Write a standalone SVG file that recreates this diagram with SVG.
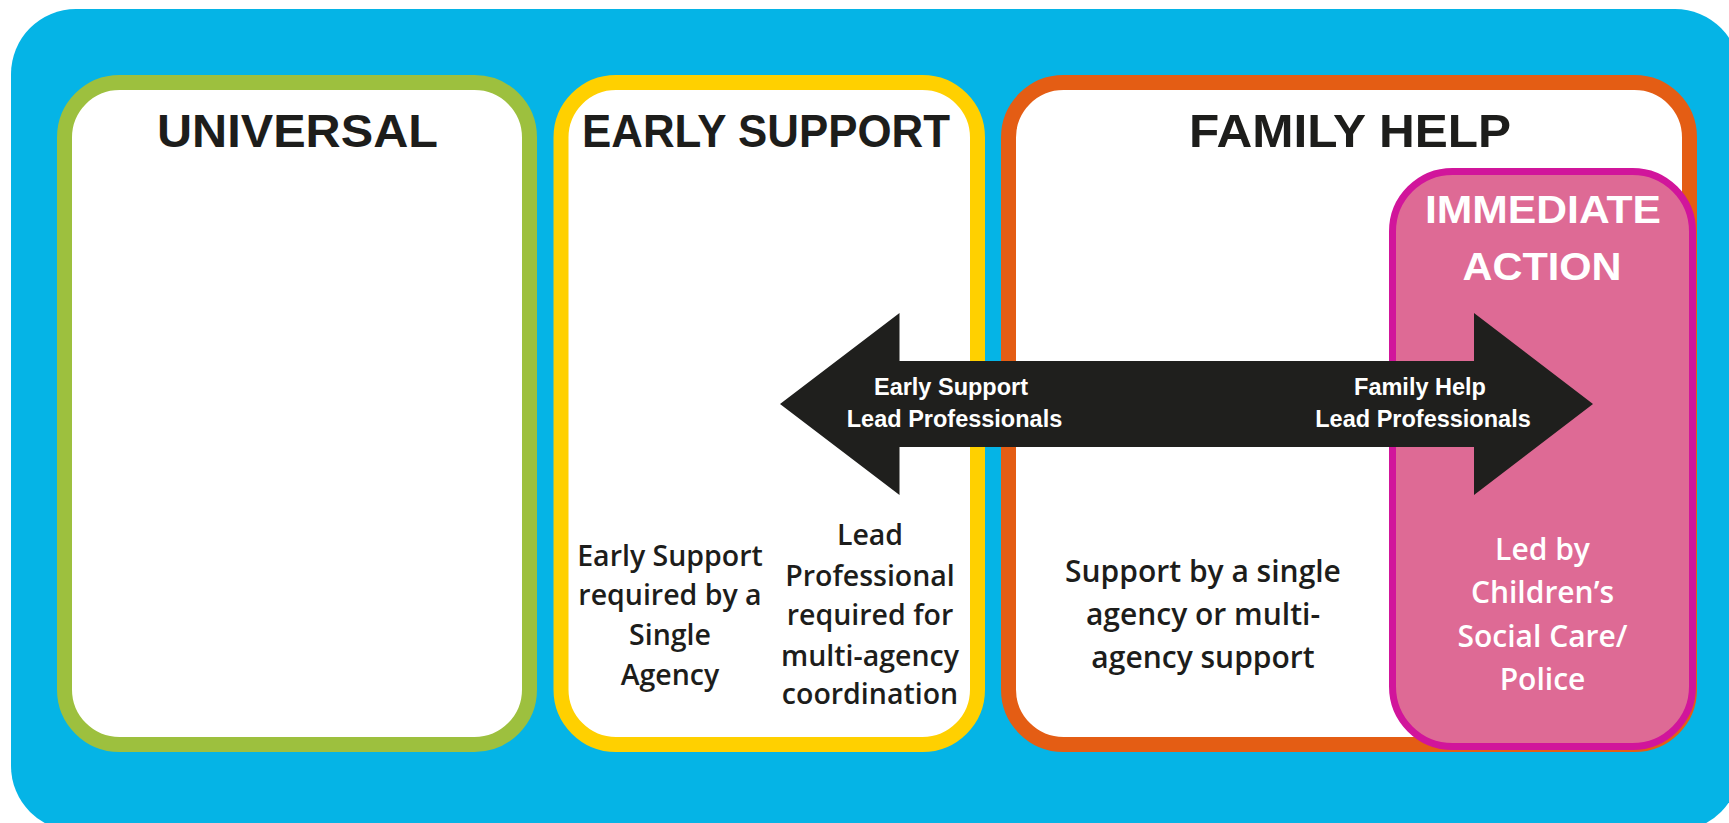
<svg xmlns="http://www.w3.org/2000/svg" width="1729" height="823" viewBox="0 0 1729 823">
<style>
.box{fill:#ffffff;stroke-width:15}
.title{font-family:"Liberation Sans",Arial,sans-serif;font-weight:700;font-size:47px;fill:#1d1d1b;text-anchor:middle}
.wtitle{font-family:"Liberation Sans",Arial,sans-serif;font-weight:700;font-size:38px;fill:#ffffff;text-anchor:middle}
.body{font-family:"Open Sans","Noto Sans",sans-serif;font-weight:600;font-size:28.5px;fill:#1d1d1b;text-anchor:middle}
.body2{font-family:"Open Sans","Noto Sans",sans-serif;font-weight:600;font-size:30px;fill:#1d1d1b;text-anchor:middle}
.pbody{font-family:"Open Sans","Noto Sans",sans-serif;font-weight:600;font-size:30px;fill:#ffffff;text-anchor:middle}
.alabel{font-family:"Liberation Sans",Arial,sans-serif;font-weight:700;font-size:23.5px;fill:#ffffff;text-anchor:middle}
</style>
<rect id="background" x="11" y="9" width="1729" height="822" rx="65" fill="#05b4e6"/>
<g id="universal">
<rect class="box" x="64.5" y="82.5" width="465" height="662" rx="55" stroke="#9dc03e"/>
<text class="title" x="297.5" y="147" textLength="281" lengthAdjust="spacingAndGlyphs">UNIVERSAL</text>
</g>
<g id="early-support">
<rect class="box" x="561" y="82.5" width="416.5" height="662" rx="55" stroke="#ffd000"/>
<text class="title" x="766" y="147" textLength="368" lengthAdjust="spacingAndGlyphs">EARLY SUPPORT</text>
<text class="body" x="670" y="566">Early Support</text>
<text class="body" x="670" y="605">required by a</text>
<text class="body" x="670" y="645">Single</text>
<text class="body" x="670" y="685">Agency</text>
<text class="body" x="870" y="545">Lead</text>
<text class="body" x="870" y="586">Professional</text>
<text class="body" x="870" y="625">required for</text>
<text class="body" x="870" y="666">multi-agency</text>
<text class="body" x="870" y="704">coordination</text>
</g>
<g id="family-help">
<rect class="box" x="1008.5" y="82.5" width="681" height="662" rx="55" stroke="#e45d14"/>
<text class="title" x="1350" y="147" textLength="322" lengthAdjust="spacingAndGlyphs">FAMILY HELP</text>
<text class="body2" x="1203" y="582">Support by a single</text>
<text class="body2" x="1203" y="625">agency or multi-</text>
<text class="body2" x="1203" y="668">agency support</text>
</g>
<g id="immediate-action">
<rect x="1392.5" y="171.5" width="300" height="575" rx="60" fill="#de6a95" stroke="#d1159b" stroke-width="7"/>
<text class="wtitle" x="1543" y="223" textLength="236" lengthAdjust="spacingAndGlyphs">IMMEDIATE</text>
<text class="wtitle" x="1542" y="280" textLength="159" lengthAdjust="spacingAndGlyphs">ACTION</text>
<text class="pbody" x="1542.5" y="560">Led by</text>
<text class="pbody" x="1542.5" y="603">Children’s</text>
<text class="pbody" x="1542.5" y="647">Social Care/</text>
<text class="pbody" x="1542.5" y="690">Police</text>
</g>
<g id="connectors">
<polygon points="780,404 899.5,313 899.5,361 1474,361 1474,313 1593,404 1474,495 1474,447 899.5,447 899.5,495" fill="#1f1f1d"/>
<text class="alabel" x="951" y="395">Early Support</text>
<text class="alabel" x="954.5" y="427">Lead Professionals</text>
<text class="alabel" x="1420" y="395">Family Help</text>
<text class="alabel" x="1423" y="427">Lead Professionals</text>
</g>
</svg>
